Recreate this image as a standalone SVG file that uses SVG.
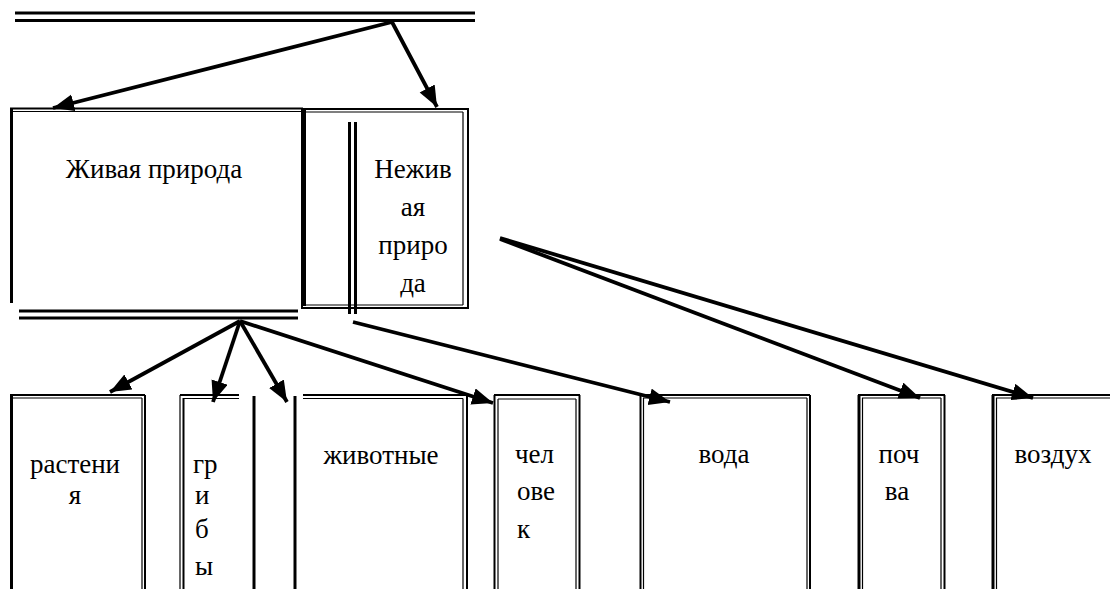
<svg xmlns="http://www.w3.org/2000/svg" width="1110" height="589" viewBox="0 0 1110 589">
<style>
.th{stroke:#000;stroke-width:3;fill:none}
.md{stroke:#000;stroke-width:2;fill:none}
.tn{stroke:#000;stroke-width:1.2;fill:none}
.ar{stroke:#000;stroke-width:3.8;fill:none;marker-end:url(#ah)}
</style>
<defs>
<marker id="ah" markerUnits="userSpaceOnUse" markerWidth="24" markerHeight="18" refX="21" refY="8.5" orient="auto">
<path d="M0,0 L21,8.5 L0,17 z" fill="#000"/>
</marker>
</defs>
<rect width="1110" height="589" fill="#fff"/>

<g id="top-bar">
<line class="th" x1="15" y1="13" x2="475" y2="13"/>
<line class="th" x1="15" y1="20.5" x2="475" y2="20.5"/>
</g>

<g id="zhivaya">
<line class="md" x1="10" y1="108.5" x2="303" y2="108.5"/>
<line class="tn" x1="12" y1="111.5" x2="303" y2="111.5"/>
<line class="th" x1="11.5" y1="108" x2="11.5" y2="303"/>
<line class="th" x1="19" y1="311" x2="298" y2="311"/>
<line class="th" x1="19" y1="318" x2="298" y2="318"/>
<text font-family="Liberation Serif" font-size="27" fill="#000" text-anchor="middle" x="154" y="178">Живая природа</text>
</g>

<g id="nezhivaya">
<rect class="md" x="302" y="109" width="166" height="199"/>
<line class="th" x1="304.5" y1="110" x2="304.5" y2="306"/>
<line class="tn" x1="306" y1="112" x2="463" y2="112"/>
<line class="tn" x1="463" y1="112" x2="463" y2="305"/>
<line class="tn" x1="306" y1="305" x2="463" y2="305"/>
<line class="th" x1="349.5" y1="122" x2="349.5" y2="314"/>
<line class="th" x1="355.5" y1="122" x2="355.5" y2="314"/>
<text font-family="Liberation Serif" font-size="27" fill="#000" text-anchor="middle" x="413" y="178">Нежив</text>
<text font-family="Liberation Serif" font-size="27" fill="#000" text-anchor="middle" x="413" y="216">ая</text>
<text font-family="Liberation Serif" font-size="27" fill="#000" text-anchor="middle" x="413" y="254">приро</text>
<text font-family="Liberation Serif" font-size="27" fill="#000" text-anchor="middle" x="413" y="292">да</text>
</g>

<g id="rasteniya">
<line class="md" x1="10" y1="395" x2="145" y2="395"/>
<line class="tn" x1="13" y1="398" x2="142" y2="398"/>
<line class="th" x1="11.5" y1="395" x2="11.5" y2="589"/>
<line class="tn" x1="142" y1="398" x2="142" y2="589"/>
<line class="md" x1="145" y1="395" x2="145" y2="589"/>
<text font-family="Liberation Serif" font-size="27" fill="#000" text-anchor="middle" x="75" y="473">растени</text>
<text font-family="Liberation Serif" font-size="27" fill="#000" text-anchor="middle" x="75" y="504">я</text>
</g>

<g id="griby">
<line class="tn" x1="180" y1="395" x2="180" y2="589"/>
<line class="md" x1="183.5" y1="398" x2="183.5" y2="589"/>
<line class="md" x1="180" y1="395" x2="239" y2="395"/>
<line class="tn" x1="183" y1="398.5" x2="239" y2="398.5"/>
<line class="th" x1="254" y1="396" x2="254" y2="589"/>
<text font-family="Liberation Serif" font-size="27" fill="#000" x="193" y="473">гр</text>
<text font-family="Liberation Serif" font-size="27" fill="#000" x="195" y="504">и</text>
<text font-family="Liberation Serif" font-size="27" fill="#000" x="195" y="538">б</text>
<text font-family="Liberation Serif" font-size="27" fill="#000" x="195" y="575">ы</text>
</g>

<g id="zhivotnye">
<line class="th" x1="295" y1="396" x2="295" y2="589"/>
<line class="md" x1="303" y1="395" x2="468" y2="395"/>
<line class="tn" x1="303" y1="398.5" x2="463" y2="398.5"/>
<line class="tn" x1="463" y1="398.5" x2="463" y2="589"/>
<line class="md" x1="467" y1="395" x2="467" y2="589"/>
<text font-family="Liberation Serif" font-size="27" fill="#000" text-anchor="middle" x="381" y="464">животные</text>
</g>

<g id="chelovek">
<line class="md" x1="494" y1="395" x2="580" y2="395"/>
<line class="tn" x1="498" y1="399" x2="576" y2="399"/>
<line class="md" x1="494.5" y1="395" x2="494.5" y2="589"/>
<line class="tn" x1="498" y1="399" x2="498" y2="589"/>
<line class="tn" x1="576" y1="399" x2="576" y2="589"/>
<line class="md" x1="579.5" y1="395" x2="579.5" y2="589"/>
<text font-family="Liberation Serif" font-size="27" fill="#000" x="515" y="463">чел</text>
<text font-family="Liberation Serif" font-size="27" fill="#000" x="517" y="500">ове</text>
<text font-family="Liberation Serif" font-size="27" fill="#000" x="517" y="538">к</text>
</g>

<g id="voda">
<line class="md" x1="640" y1="395" x2="810" y2="395"/>
<line class="tn" x1="643" y1="398" x2="807" y2="398"/>
<line class="md" x1="640.5" y1="395" x2="640.5" y2="589"/>
<line class="tn" x1="643.5" y1="398" x2="643.5" y2="589"/>
<line class="tn" x1="807" y1="398" x2="807" y2="589"/>
<line class="md" x1="810" y1="395" x2="810" y2="589"/>
<text font-family="Liberation Serif" font-size="27" fill="#000" text-anchor="middle" x="724" y="463">вода</text>
</g>

<g id="pochva">
<line class="md" x1="858" y1="395" x2="945" y2="395"/>
<line class="tn" x1="862" y1="398" x2="941" y2="398"/>
<line class="th" x1="859" y1="395" x2="859" y2="589"/>
<line class="tn" x1="862.5" y1="398" x2="862.5" y2="589"/>
<line class="tn" x1="941" y1="398" x2="941" y2="589"/>
<line class="md" x1="944.5" y1="395" x2="944.5" y2="589"/>
<text font-family="Liberation Serif" font-size="27" fill="#000" text-anchor="middle" x="899" y="463">поч</text>
<text font-family="Liberation Serif" font-size="27" fill="#000" text-anchor="middle" x="897" y="500">ва</text>
</g>

<g id="vozduh">
<line class="md" x1="992" y1="395" x2="1110" y2="395"/>
<line class="tn" x1="996" y1="398" x2="1110" y2="398"/>
<line class="th" x1="993" y1="395" x2="993" y2="589"/>
<line class="tn" x1="996.5" y1="398" x2="996.5" y2="589"/>
<text font-family="Liberation Serif" font-size="27" fill="#000" text-anchor="middle" x="1053" y="463">воздух</text>
</g>

<g id="connectors">
<line class="ar" x1="392" y1="22" x2="53" y2="108"/>
<line class="ar" x1="392" y1="22" x2="437" y2="107"/>
<line class="ar" x1="240" y1="321" x2="110" y2="392"/>
<line class="ar" x1="240" y1="321" x2="213" y2="402"/>
<line class="ar" x1="240" y1="321" x2="287" y2="402"/>
<line class="ar" x1="240" y1="321" x2="493" y2="403"/>
<line class="ar" x1="353" y1="322" x2="670" y2="402"/>
<line class="ar" x1="500" y1="239" x2="920" y2="398"/>
<line class="ar" x1="500" y1="238" x2="1033" y2="398"/>
</g>
</svg>
